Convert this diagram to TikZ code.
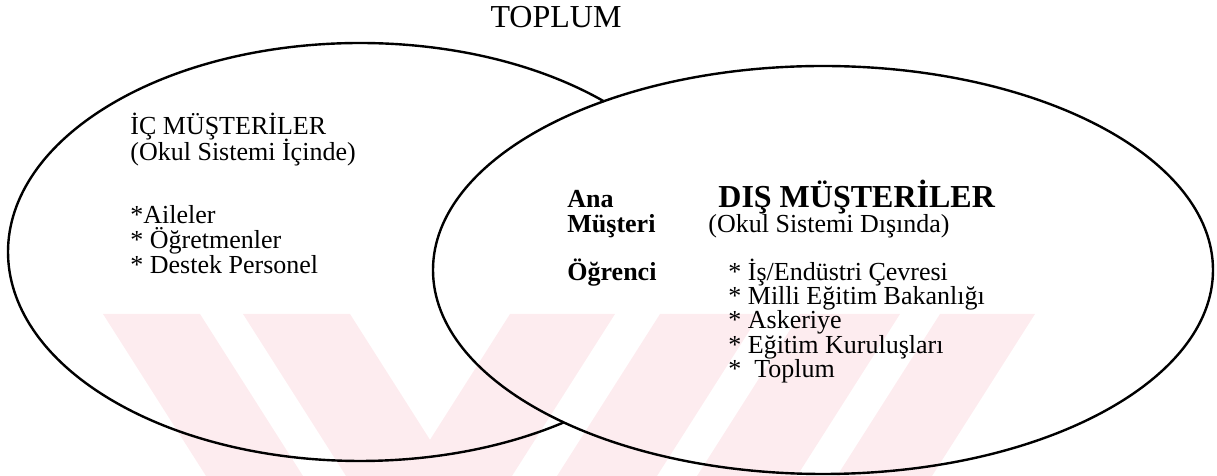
\documentclass[tikz,border=0pt]{standalone}
\usepackage{fontspec}
\setmainfont{Liberation Serif}
\definecolor{wm}{RGB}{253,236,239}
\begin{document}
\begin{tikzpicture}[x=0.5pt,y=0.5pt,
  txt/.style={anchor=base west,inner sep=0pt,font=\fontsize{13}{15}\selectfont},
  btxt/.style={txt,font=\fontsize{13}{15}\selectfont\bfseries},
  wmband/.style={fill=wm,draw=none},
  venn/.style={draw=black,line width=1.2pt}]
\useasboundingbox (0,0) rectangle (1217,476);
% watermark bands
\fill[wmband] (103,162) -- (200,162) -- (303,0) -- (206,0) -- cycle;
\fill[wmband] (243,162) -- (350,162) -- (453,0) -- (346,0) -- cycle;
\fill[wmband] (510,162) -- (615,162) -- (512,0) -- (407,0) -- cycle;
\fill[wmband] (660,162) -- (760,162) -- (657,0) -- (557,0) -- cycle;
\fill[wmband] (800,162) -- (900,162) -- (797,0) -- (697,0) -- cycle;
\fill[wmband] (940,162) -- (1035,162) -- (932,0) -- (837,0) -- cycle;
% ellipses
\draw[venn] ([shift={(46.1:352 and 209)}]360,224) arc[start angle=46.1,end angle=305.3,x radius=352,y radius=209];
\draw[venn] (823,206) ellipse [x radius=390,y radius=204];
% texts
\node[anchor=base,inner sep=0pt,font=\fontsize{16}{18}\selectfont] (toplum) at (556,448) {TOPLUM};
\node[txt] (ic) at (130,341) {İÇ MÜŞTERİLER};
\node[txt] (icsub) at (130,315) {(Okul Sistemi İçinde)};
\node[txt] (i1) at (130,252) {*Aileler};
\node[txt] (i2) at (130,227) {* Öğretmenler};
\node[txt] (i3) at (130,202) {* Destek Personel};
\node[btxt] (ana) at (567,268) {Ana};
\node[btxt] (mus) at (567,243) {Müşteri};
\node[btxt] (ogr) at (567,195) {Öğrenci};
\node[txt,font=\fontsize{16}{18}\selectfont\bfseries] (dis) at (718,268) {DIŞ MÜŞTERİLER};
\node[txt] (dissub) at (708,243) {(Okul Sistemi Dışında)};
\node[txt] (d1) at (728,195) {* İş/Endüstri Çevresi};
\node[txt] (d2) at (728,171) {* Milli Eğitim Bakanlığı};
\node[txt] (d3) at (728,147) {* Askeriye};
\node[txt] (d4) at (728,122) {* Eğitim Kuruluşları};
\node[txt] (d5) at (728,98) {*\ \ Toplum};
\end{tikzpicture}
\end{document}
